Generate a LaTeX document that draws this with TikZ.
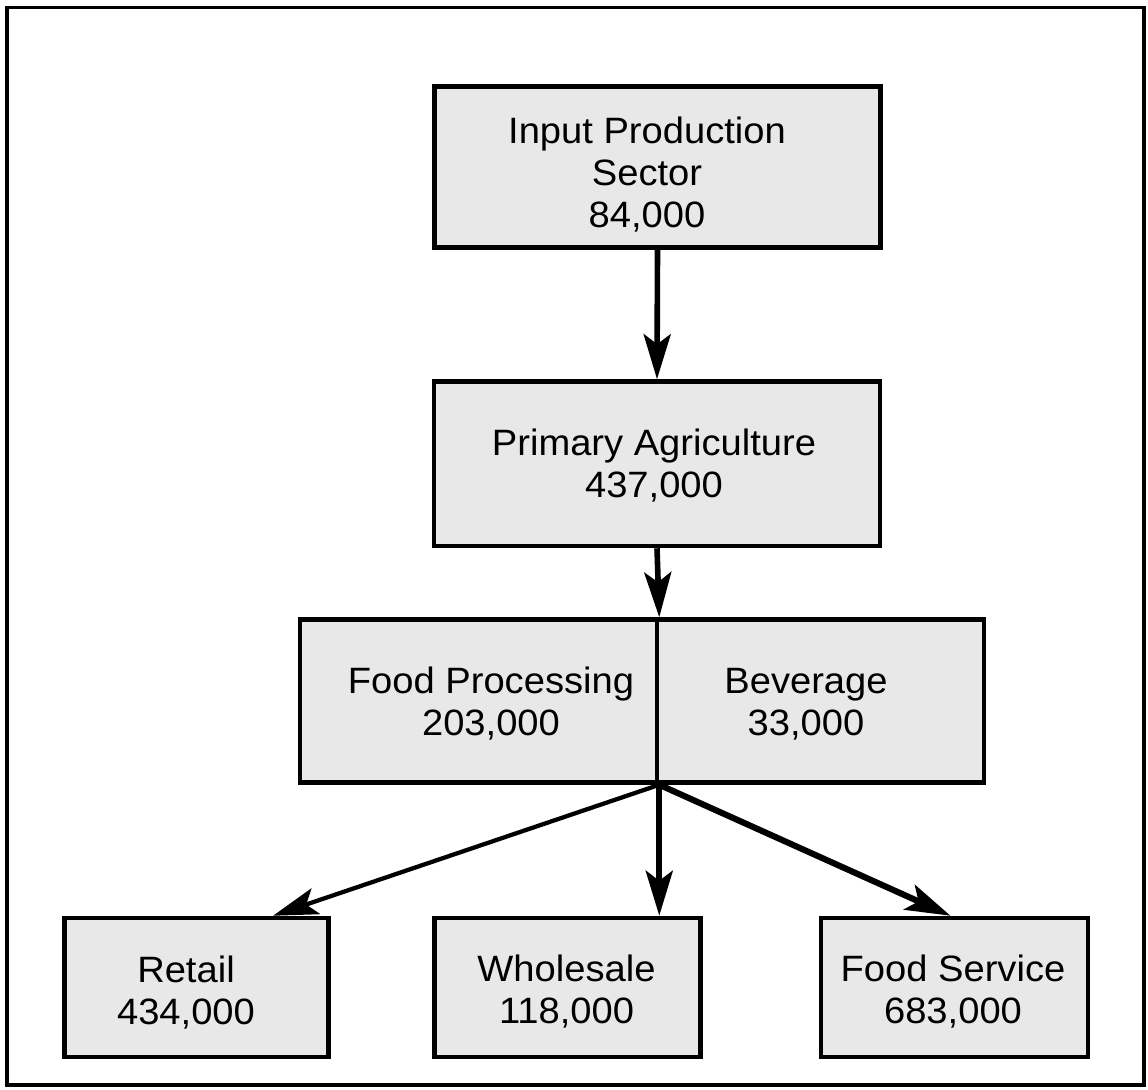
\documentclass[tikz,border=0pt]{standalone}
\usepackage{fontspec}
\setmainfont{Liberation Sans}[FakeStretch=1.04]
\usetikzlibrary{arrows.meta,calc}
\definecolor{boxfill}{RGB}{232,232,232}

\begin{document}
\begin{tikzpicture}[x=0.75pt,y=-0.75pt,
  box/.style={rectangle, draw=black, fill=boxfill, line width=3.4pt, inner sep=0pt},
  lbl/.style={align=center, inner sep=0pt, font=\fontsize{27.5}{31.5}\selectfont},
  flow/.style={line width=4.2pt, -{Stealth[length=33.75pt,width=20.25pt,inset=7.5pt]}},
]
\useasboundingbox (0,0) rectangle (1148,1089);

% outer frame
\draw[line width=2.6pt] (7,7.5) rectangle (1144,1085);

% sector boxes
\node[box, minimum width={445.6*0.75pt}, minimum height={160.8*0.75pt}] (input) at (657.5,167.1) {};
\node[box, minimum width={446*0.75pt}, minimum height={164.5*0.75pt}] (primary) at (657,463.75) {};
\node[box, minimum width={357*0.75pt}, minimum height={163*0.75pt}] (fp) at (478.5,701) {};
\node[box, minimum width={327*0.75pt}, minimum height={163*0.75pt}] (bev) at (820.5,701) {};
\node[box, minimum width={264*0.75pt}, minimum height={139*0.75pt}] (retail) at (196.5,987.5) {};
\node[box, minimum width={266*0.75pt}, minimum height={139*0.75pt}] (wholesale) at (567.3,987.5) {};
\node[box, minimum width={267*0.75pt}, minimum height={139*0.75pt}] (fs) at (954.5,987.5) {};

% box texts
\node[lbl] (inputtxt) at (647,175) {Input Production\\Sector\\84,000};
\node[lbl] (primarytxt) at (654,466) {Primary Agriculture\\437,000};
\node[lbl] (fptxt) at (491,704) {Food Processing\\203,000};
\node[lbl] (bevtxt) at (806,704) {Beverage\\33,000};
\node[lbl] (retailtxt) at (186,993) {Retail\\434,000};
\node[lbl] (wholesaletxt) at (566.5,992) {Wholesale\\118,000};
\node[lbl] (fstxt) at (953,992) {Food Service\\683,000};

% flows between sectors
\draw[flow] (input.south) -- (primary.north);
\draw[flow] (primary.south) -- (fp.north east);
\draw[flow, line width=3.2pt] (fp.south east) -- ([xshift=57.4pt]retail.north);
\draw[flow] (fp.south east) -- (fp.south east |- wholesale.north);
\draw[flow, line width=4.6pt] (fp.south east) -- ([xshift=-3pt]fs.north);
\end{tikzpicture}
\end{document}
